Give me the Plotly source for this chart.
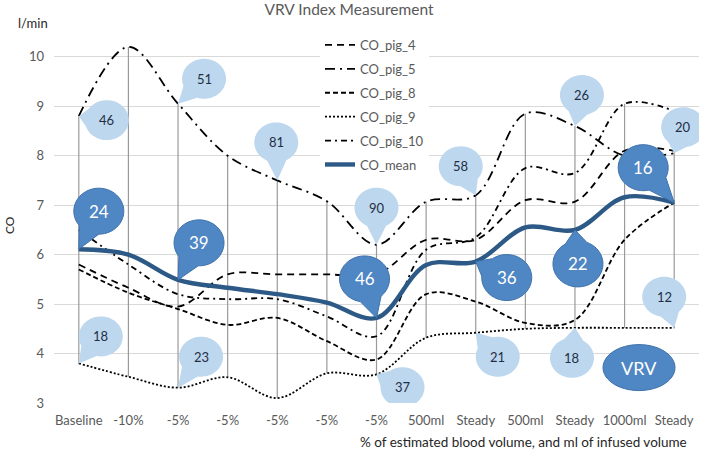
import math
import plotly.graph_objects as go

# ---------------- data ----------------
categories = ["Baseline", "-10%", "-5%", "-5%", "-5%", "-5%", "-5%",
              "500ml", "Steady", "500ml", "Steady", "1000ml", "Steady"]

co_pig_4 = [5.8, 5.33, 4.95, 5.6, 5.6, 5.6, 5.6, 6.3, 6.3, 7.1, 7.07, 8.1, 8.1]
co_pig_5 = [8.8, 10.2, 9.05, 8.0, 7.5, 7.08, 6.2, 7.07, 7.2, 8.85, 8.6, 8.0, 8.05]
co_pig_8 = [5.7, 5.23, 4.9, 4.58, 4.72, 4.25, 3.88, 5.2, 5.05, 4.62, 4.68, 6.3, 7.05]
co_pig_9 = [3.8, 3.53, 3.31, 3.52, 3.1, 3.6, 3.58, 4.32, 4.42, 4.5, 4.52, 4.52, 4.52]
co_pig_10 = [6.5, 5.8, 5.2, 5.1, 5.1, 4.75, 4.35, 6.1, 6.35, 7.75, 7.65, 9.05, 8.9]
co_mean = [6.11, 6.0, 5.49, 5.33, 5.2, 5.03, 4.72, 5.79, 5.86, 6.55, 6.5, 7.16, 7.05]

# VRV index labels (callouts)
vrv_pig_5 = [46, None, 51, None, 81, None, 90, None, 58, None, 26, None, 20]
vrv_pig_9 = [18, None, 23, None, None, None, 37, None, 21, None, 18, None, 12]
vrv_mean = [24, None, 39, None, None, None, 46, None, 36, None, 22, None, 16]

# ---------------- styling / placement ----------------
# callout centre offsets from the data point, in screen pixels (dx right, dy down)
off_pig_5 = [(28, 4), None, (26, -25), None, (-1, -38), None, (0, -37), None,
             (-15, -29), None, (7, -31), None, (9, -26)]
off_pig_9 = [(22, -27), None, (23, -31), None, None, None, (26, 13), None,
             (22, 24), None, (-3, 30), None, (-10, -31)]
off_mean = [(20, -38), None, (21, -37), None, None, None, (-12, -39), None,
            (31, 16), None, (3, 34), None, (-31, -35)]

LIGHT = "#BDD7EE"
DARK = "#4F86C4"
DARK_EDGE = "#3F72AA"
MEAN_COLOR = "#2C5986"
FONT = "Lato, 'Open Sans', sans-serif"
GREY = "#595959"

x = list(range(len(categories)))
fig = go.Figure()

# high-low lines
all_series = [co_pig_4, co_pig_5, co_pig_8, co_pig_9, co_pig_10, co_mean]
hx, hy = [], []
for i in x:
    vals = [s[i] for s in all_series]
    hx += [i, i, None]
    hy += [min(vals), max(vals), None]
fig.add_trace(go.Scatter(x=hx, y=hy, mode="lines", line=dict(color="#9A9A9A", width=1.2),
                         showlegend=False, hoverinfo="skip"))

series = [
    ("CO_pig_4", co_pig_4, "black", 1.8, "7px,5px"),
    ("CO_pig_5", co_pig_5, "black", 1.8, "10px,5px,2px,5px"),
    ("CO_pig_8", co_pig_8, "black", 1.8, "5px,3px"),
    ("CO_pig_9", co_pig_9, "black", 1.8, "2px,2px"),
    ("CO_pig_10", co_pig_10, "black", 1.8, "6px,4px,2px,4px"),
    ("CO_mean", co_mean, MEAN_COLOR, 4.4, "solid"),
]
for k, (name, vals, col, w, dash) in enumerate(series):
    fig.add_trace(go.Scatter(x=x, y=vals, mode="lines", name=name,
                             line=dict(color=col, width=w, dash=dash, shape="spline", smoothing=1.0),
                             legendgroup=name))


def bubble_path(cx, cy, rx, ry, tail=True):
    """cx, cy: centre offset in screen px (y down) from the anchor point."""
    pts = []
    if tail:
        th = math.atan2(-cy / ry, -cx / rx)
        half = 0.45
        n = 48
        for j in range(n + 1):
            a = th + half + (2 * math.pi - 2 * half) * j / n
            pts.append((cx + rx * math.cos(a), cy + ry * math.sin(a)))
        pts.append((0, 0))
    else:
        n = 60
        for j in range(n):
            a = 2 * math.pi * j / n
            pts.append((cx + rx * math.cos(a), cy + ry * math.sin(a)))
    s = "M " + " L ".join(f"{px:.2f},{-py:.2f}" for px, py in pts) + " Z"
    return s


shapes = []
annotations = []


def add_callouts(labels, offsets, values, fill, edge, rx, ry, txtcol, size):
    for i, (lab, off) in enumerate(zip(labels, offsets)):
        if lab is None or off is None:
            continue
        dx, dy = off
        shapes.append(dict(type="path", xref="x", yref="y", xsizemode="pixel", ysizemode="pixel",
                           xanchor=i, yanchor=values[i], path=bubble_path(dx, dy, rx, ry),
                           fillcolor=fill, line=dict(color=edge, width=1 if edge else 0), layer="above"))
        annotations.append(dict(x=i, y=values[i], xref="x", yref="y", xshift=dx, yshift=-dy,
                                xanchor="center", yanchor="middle",
                                text=str(lab), showarrow=False,
                                font=dict(family=FONT, size=size, color=txtcol)))


add_callouts(vrv_pig_5, off_pig_5, co_pig_5, LIGHT, None, 22, 20, "#1F2E45", 13)
add_callouts(vrv_pig_9, off_pig_9, co_pig_9, LIGHT, None, 22, 20, "#1F2E45", 13)
add_callouts(vrv_mean, off_mean, co_mean, DARK, DARK_EDGE, 25, 23, "white", 17)

# VRV legend bubble
vx, vy = (639 - 54) / 645, (403.5 - 368) / 367
shapes.append(dict(type="path", xref="paper", yref="paper", xsizemode="pixel", ysizemode="pixel",
                   xanchor=vx, yanchor=vy, path=bubble_path(0, 0, 36, 23, tail=False),
                   fillcolor=DARK, line=dict(color=DARK_EDGE, width=1), layer="above"))
annotations.append(dict(x=vx, y=vy, xref="paper", yref="paper", xanchor="center", yanchor="middle",
                        text="VRV", showarrow=False, font=dict(family=FONT, size=18, color="white")))

# texts
annotations.append(dict(x=(16 - 54) / 645, y=(403.5 - 22) / 367, xref="paper", yref="paper",
                        text="l/min", showarrow=False, xanchor="left", yanchor="middle",
                        font=dict(family=FONT, size=13, color="#262626")))
annotations.append(dict(x=(10 - 54) / 645, y=(403.5 - 225) / 367, xref="paper", yref="paper",
                        text="CO", showarrow=False, textangle=-90, xanchor="center", yanchor="middle",
                        font=dict(family=FONT, size=12, color="#262626")))
annotations.append(dict(x=(523 - 54) / 645, y=(403.5 - 443) / 367, xref="paper", yref="paper",
                        text="% of estimated blood volume, and ml of infused volume", showarrow=False,
                        xanchor="center", yanchor="middle",
                        font=dict(family=FONT, size=13.5, color="#262626")))

fig.update_layout(
    width=709, height=452,
    margin=dict(l=54, r=10, t=36.5, b=48.5),
    paper_bgcolor="white", plot_bgcolor="white",
    font=dict(family=FONT, size=12, color=GREY),
    title=dict(text="VRV Index Measurement", x=349 / 709, xanchor="center",
               y=(452 - 10) / 452, yanchor="middle", yref="container",
               font=dict(family=FONT, size=15.5, color=GREY)),
    shapes=shapes, annotations=annotations,
    showlegend=True,
    legend=dict(x=(320 - 54) / 645, y=1 + 7 / 367, xanchor="left", yanchor="top",
                bgcolor="white", font=dict(family=FONT, size=13, color=GREY),
                tracegroupgap=4, itemwidth=30),
    xaxis=dict(range=[-0.5, 12.5], tickmode="array", tickvals=x, ticktext=categories,
               showgrid=False, zeroline=False, showline=False, ticks="",
               tickfont=dict(family=FONT, size=13, color=GREY), ticklabelstandoff=8),
    yaxis=dict(range=[3, 10.4], tickmode="linear", tick0=3, dtick=1,
               showgrid=True, gridcolor="#D9D9D9", gridwidth=1, zeroline=False, showline=False,
               ticks="", tickfont=dict(family=FONT, size=13, color=GREY), ticklabelstandoff=9),
)

fig.write_html("out.html", config={"displayModeBar": False},
               post_script="document.body.style.margin='0';document.body.style.overflow='hidden';")
